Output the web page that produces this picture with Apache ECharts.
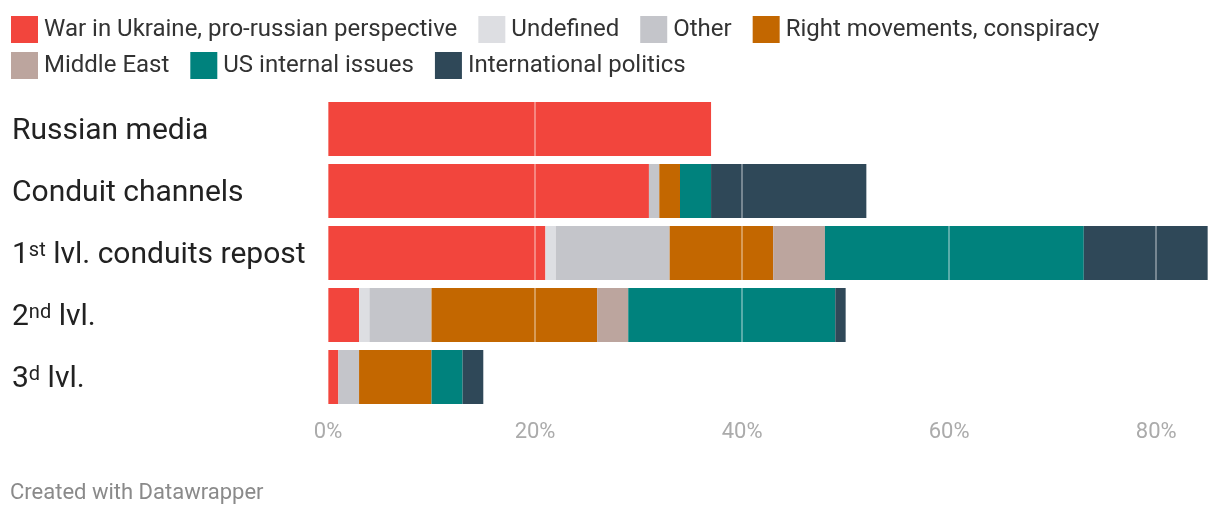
<!DOCTYPE html>
<html>
<head>
<meta charset="utf-8">
<script src="https://cdn.jsdelivr.net/npm/echarts@6/dist/echarts.min.js"></script>
<style>
html,body{margin:0;padding:0;background:#fff;}
#chart{width:1220px;height:518px;}
</style>
</head>
<body>
<div id="chart"></div>
<script>
const categories = ['Russian media', 'Conduit channels', '1st lvl. conduits repost', '2nd lvl.', '3d lvl.'];
const categoryLabels = ['Russian media', 'Conduit channels', '1{sup|st} lvl. conduits repost', '2{sup|nd} lvl.', '3{sup|d} lvl.'];
const seriesNames = ['War in Ukraine, pro-russian perspective', 'Undefined', 'Other', 'Right movements, conspiracy', 'Middle East', 'US internal issues', 'International politics'];
const warUkraine = [37, 31, 21, 3, 1];
const undefinedTopic = [0, 0, 1, 1, 0];
const other = [0, 1, 11, 6, 2];
const rightMovements = [0, 2, 10, 16, 7];
const middleEast = [0, 0, 5, 3, 0];
const usInternal = [0, 3, 25, 20, 3];
const intlPolitics = [0, 15, 12, 1, 2];
const xTicks = [0, 20, 40, 60, 80];
const colors = ['#f2453d', '#dddee2', '#c4c5ca', '#c36700', '#bca59e', '#00827d', '#2f4858'];

const values = [warUkraine, undefinedTopic, other, rightMovements, middleEast, usInternal, intlPolitics];

const chart = echarts.init(document.getElementById('chart'), null, {renderer: 'canvas'});
const font = 'Roboto, "Noto Sans", sans-serif';

const legendCommon = {
  icon: 'rect',
  itemWidth: 27,
  itemHeight: 27,
  itemGap: 21,
  selectedMode: false,
  textStyle: {fontFamily: font, fontSize: 24, color: '#333', padding: [0, 0, 0, 1]}
};

chart.setOption({
  animation: false,
  color: colors,
  legend: [
    Object.assign({left: 6, top: 11, data: seriesNames.slice(0, 4)}, legendCommon),
    Object.assign({left: 6, top: 47, data: seriesNames.slice(4)}, legendCommon)
  ],
  grid: {left: 328, right: 12, top: 98, height: 310, containLabel: false},
  xAxis: {
    type: 'value',
    min: 0,
    max: 85,
    interval: 20,
    z: 10,
    axisLine: {show: false},
    axisTick: {show: false},
    splitLine: {show: true, lineStyle: {color: 'rgba(255,255,255,0.35)', width: 2}},
    axisLabel: {
      margin: 13,
      fontFamily: font,
      fontSize: 22,
      color: '#ababab',
      formatter: function (v) { return xTicks.indexOf(v) >= 0 ? v + '%' : ''; },
      showMaxLabel: false
    }
  },
  yAxis: {
    type: 'category',
    inverse: true,
    data: categories,
    axisLine: {show: false},
    axisTick: {show: false},
    axisLabel: {
      align: 'left',
      margin: 316,
      padding: [5, 0, 0, 0],
      fontFamily: font,
      fontSize: 30,
      color: '#222',
      formatter: function (v, i) { return categoryLabels[i]; },
      rich: {
        sup: {fontFamily: font, fontSize: 20, color: '#222', verticalAlign: 'top', lineHeight: 20, padding: [0, 0, 10, 0]}
      }
    }
  },
  series: seriesNames.map(function (name, i) {
    return {
      name: name,
      type: 'bar',
      stack: 'total',
      barWidth: 54,
      data: values[i],
      itemStyle: {color: colors[i]},
      emphasis: {disabled: true}
    };
  }),
  graphic: [{
    type: 'text',
    left: 10,
    top: 482,
    style: {text: 'Created with Datawrapper', fontFamily: font, fontSize: 22, fill: '#8a8a8a'}
  }]
});
</script>
</body>
</html>
